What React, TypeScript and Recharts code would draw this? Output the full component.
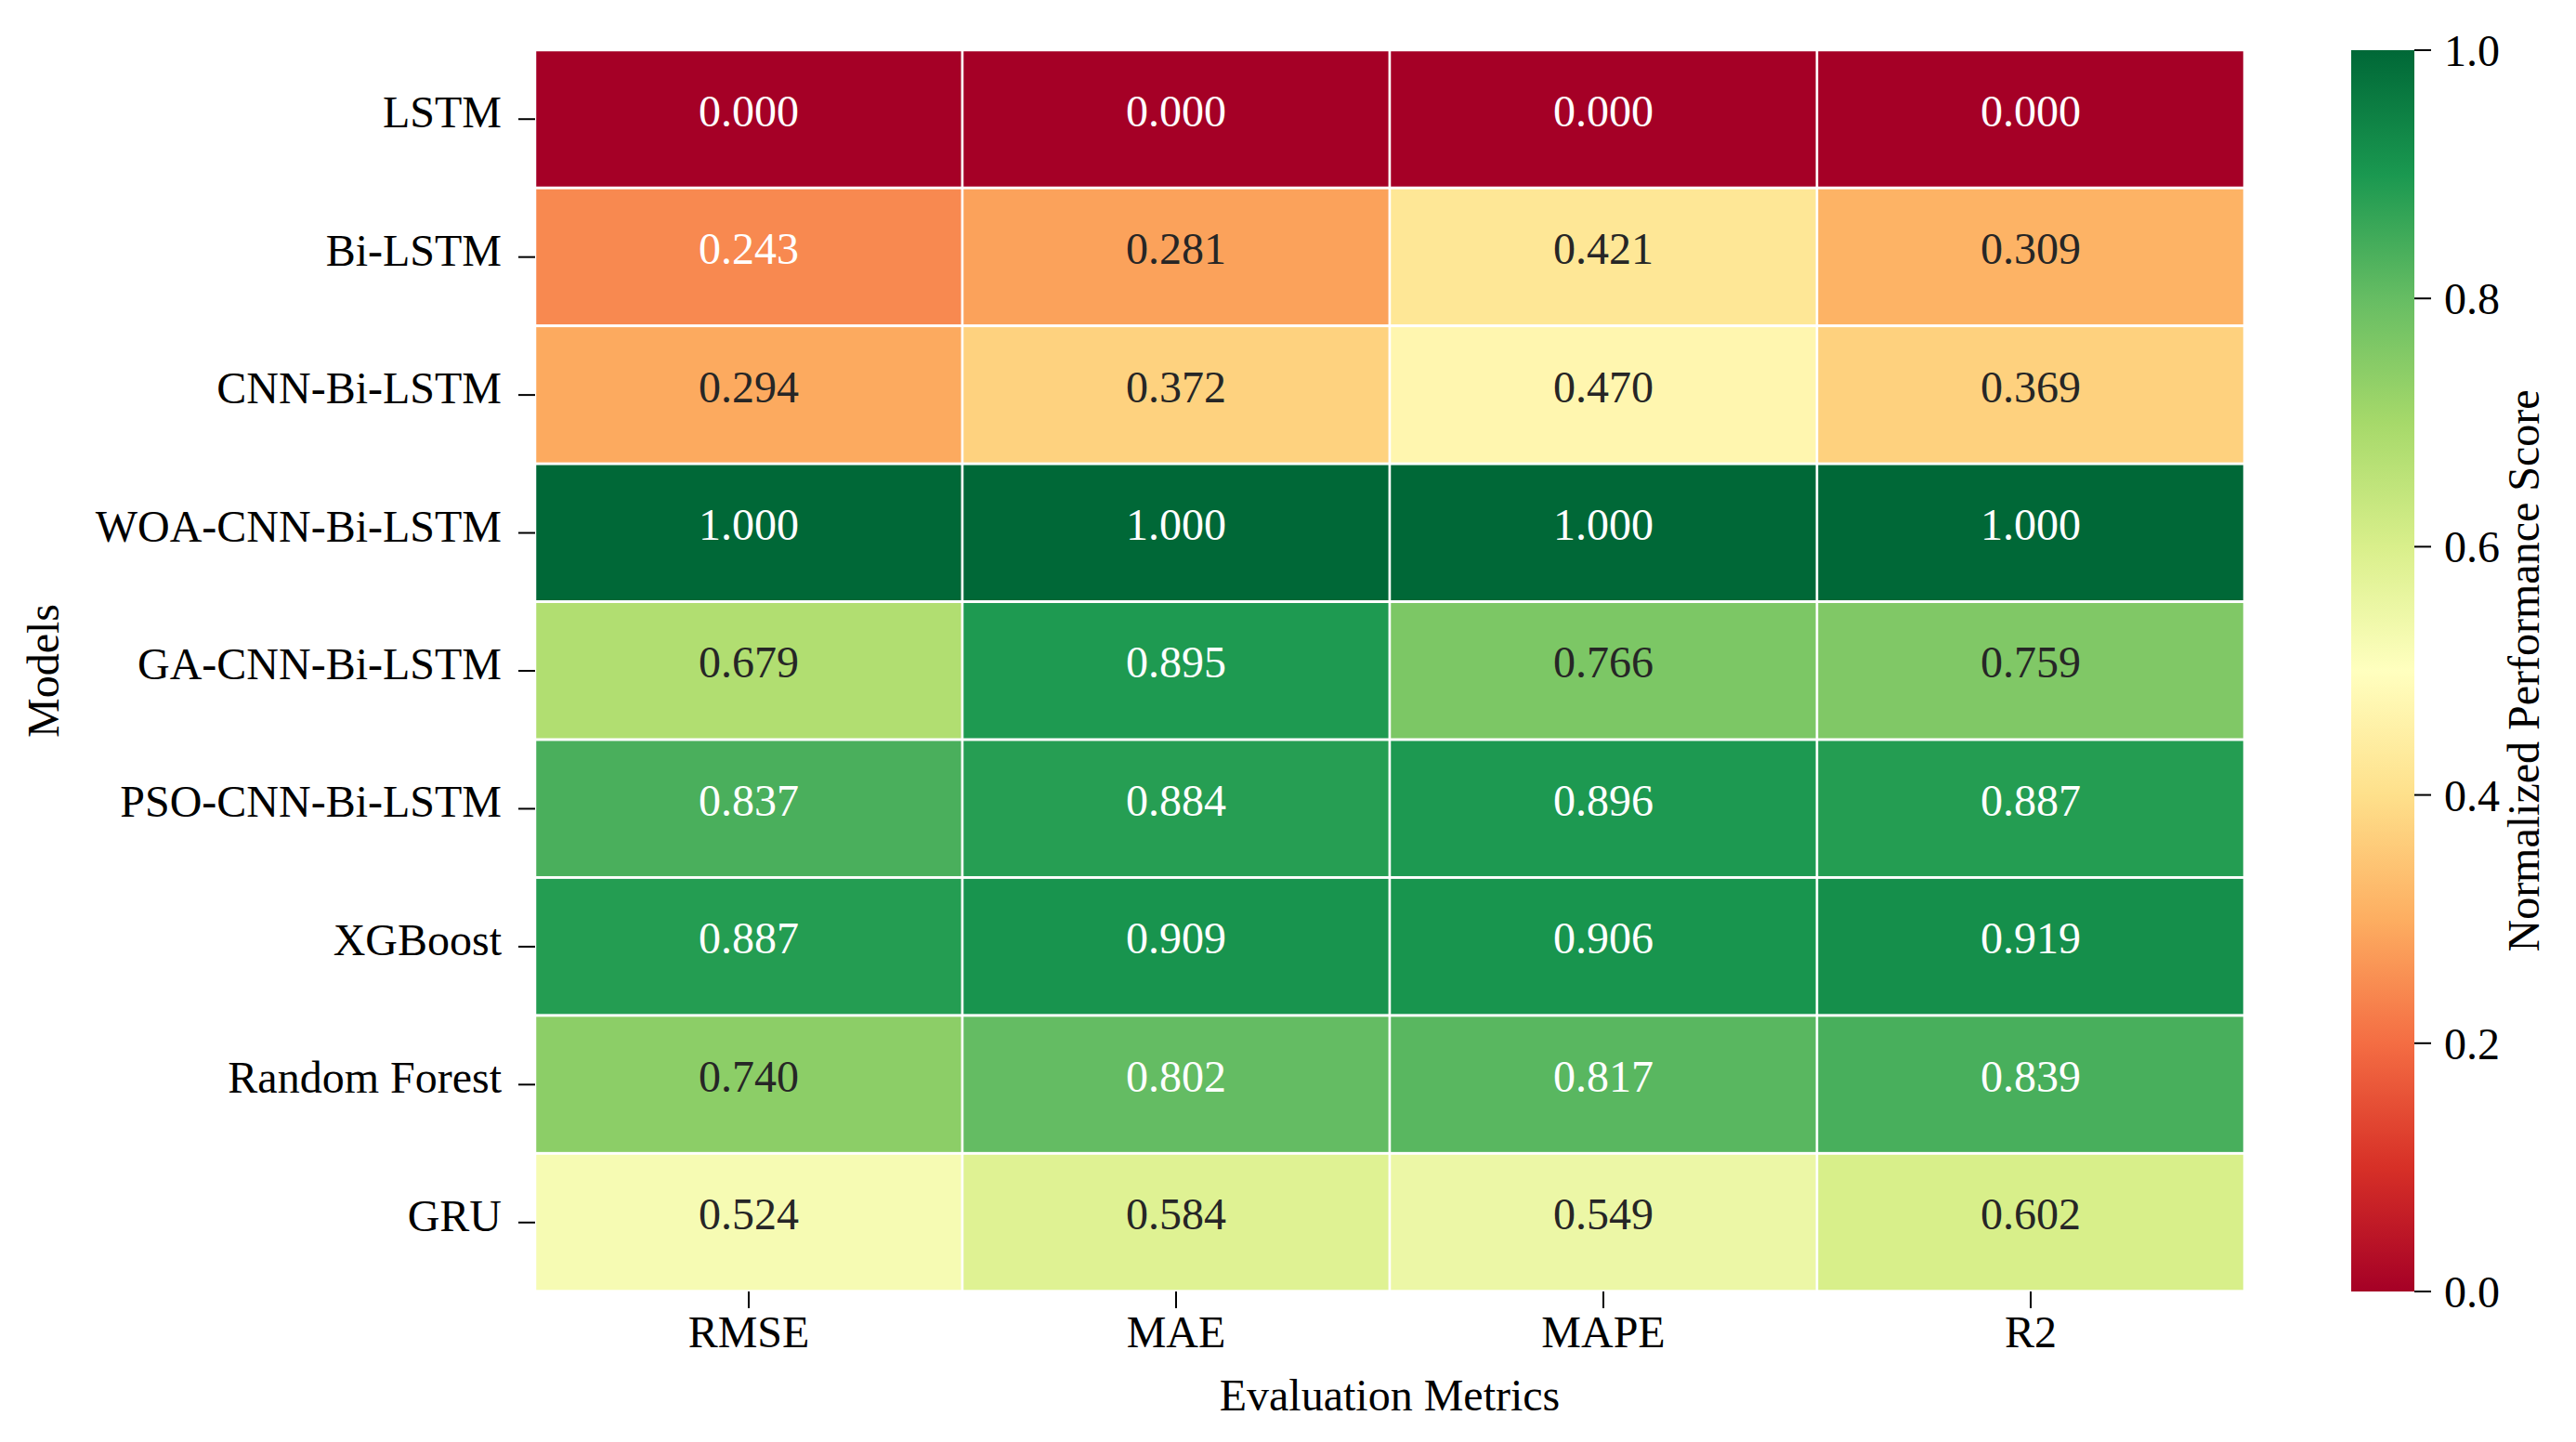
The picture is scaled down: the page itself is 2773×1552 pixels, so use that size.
import React from "react";
import { BarChart, Bar, XAxis, YAxis, Label } from "recharts";

const models = [
  "LSTM",
  "Bi-LSTM",
  "CNN-Bi-LSTM",
  "WOA-CNN-Bi-LSTM",
  "GA-CNN-Bi-LSTM",
  "PSO-CNN-Bi-LSTM",
  "XGBoost",
  "Random Forest",
  "GRU",
];
const metrics = ["RMSE", "MAE", "MAPE", "R2"];
const rmse = [0.0, 0.243, 0.294, 1.0, 0.679, 0.837, 0.887, 0.74, 0.524];
const mae = [0.0, 0.281, 0.372, 1.0, 0.895, 0.884, 0.909, 0.802, 0.584];
const mape = [0.0, 0.421, 0.47, 1.0, 0.766, 0.896, 0.906, 0.817, 0.549];
const r2 = [0.0, 0.309, 0.369, 1.0, 0.759, 0.887, 0.919, 0.839, 0.602];
const metricTickPositions = [0.5, 1.5, 2.5, 3.5];
const colorbarTicks = [0, 0.2, 0.4, 0.6, 0.8, 1.0];
const colorbarDomain = [0, 1];

// RdYlGn colormap anchors (matplotlib)
const RDYLGN = [
  [165, 0, 38],
  [215, 48, 39],
  [244, 109, 67],
  [253, 174, 97],
  [254, 224, 139],
  [255, 255, 191],
  [217, 239, 139],
  [166, 217, 106],
  [102, 189, 99],
  [26, 152, 80],
  [0, 104, 55],
];

function cmap(v: number): number[] {
  const t = Math.max(0, Math.min(1, v)) * (RDYLGN.length - 1);
  const i = Math.min(Math.floor(t), RDYLGN.length - 2);
  const f = t - i;
  const a = RDYLGN[i];
  const b = RDYLGN[i + 1];
  return [0, 1, 2].map((k) => a[k] + (b[k] - a[k]) * f);
}
function toHex(c: number[]) {
  return "#" + c.map((x) => Math.round(x).toString(16).padStart(2, "0")).join("");
}
function luminance(c: number[]) {
  const lin = c.map((x) => {
    const s = x / 255;
    return s <= 0.03928 ? s / 12.92 : Math.pow((s + 0.055) / 1.055, 2.4);
  });
  return 0.2126 * lin[0] + 0.7152 * lin[1] + 0.0722 * lin[2];
}

const metricValues: Record<string, number[]> = { RMSE: rmse, MAE: mae, MAPE: mape, R2: r2 };
const rows = models.map((model, i) => {
  const row: any = { model };
  metrics.forEach((m) => {
    row[m] = metricValues[m][i];
  });
  return row;
});

// each metric column occupies one unit of the x-axis
const spanKeys = metrics.map(() => () => 1);

const FONT = "'Liberation Serif', 'Times New Roman', serif";
const FS = 48;

function makeCellShape(metric: string) {
  return (props: any) => {
    const { x, y, width, height, payload } = props;
    const v = payload[metric] as number;
    const c = cmap(v);
    const textColor = luminance(c) > 0.408 ? "#262626" : "#ffffff";
    return (
      <g>
        <rect x={x} y={y} width={width} height={height} fill={toHex(c)} stroke="#ffffff" strokeWidth={2.5} />
        <text
          x={x + width / 2}
          y={y + height / 2}
          dy="0.16em"
          textAnchor="middle"
          fontFamily={FONT}
          fontSize={FS}
          fill={textColor}
        >
          {v.toFixed(3)}
        </text>
      </g>
    );
  };
}

export default function App() {
  const tickStyle = { fontSize: FS, fill: "#000", fontFamily: FONT };
  return (
    <div style={{ position: "absolute", left: 0, top: 0, width: 2773, height: 1552, background: "#fff" }}>
      <svg width={0} height={0} style={{ position: "absolute" }}>
        <defs>
          <linearGradient id="rdylgnGrad" x1="0" y1="1" x2="0" y2="0">
            {RDYLGN.map((c, i) => (
              <stop key={i} offset={`${(i / (RDYLGN.length - 1)) * 100}%`} stopColor={toHex(c)} />
            ))}
          </linearGradient>
        </defs>
      </svg>
      <div style={{ position: "absolute", left: 0, top: 0 }}>
        <BarChart
          width={2500}
          height={1552}
          data={rows}
          layout="vertical"
          margin={{ top: 54, right: 84, bottom: 0, left: 0 }}
          barCategoryGap={0}
          barGap={0}
        >
          <XAxis
            type="number"
            domain={[0, metrics.length]}
            ticks={metricTickPositions}
            tickFormatter={(v: number) => metrics[Math.floor(v)]}
            height={162}
            axisLine={false}
            tickSize={18}
            tickMargin={8}
            tick={tickStyle}
            tickLine={{ stroke: "#000", strokeWidth: 2 }}
            interval={0}
          >
            <Label value="Evaluation Metrics" position="insideBottom" offset={34} fontSize={FS} fill="#000" fontFamily={FONT} />
          </XAxis>
          <YAxis
            type="category"
            dataKey="model"
            width={576}
            axisLine={false}
            tickSize={18}
            tickMargin={18}
            tick={{ ...tickStyle, dy: -8 }}
            tickLine={{ stroke: "#000", strokeWidth: 2 }}
            interval={0}
          >
            <Label
              value="Models"
              angle={-90}
              position="insideLeft"
              offset={46}
              fontSize={FS}
              fill="#000"
              fontFamily={FONT}
              style={{ textAnchor: "middle" }}
            />
          </YAxis>
          {metrics.map((m, i) => (
            <Bar key={m} dataKey={spanKeys[i]} stackId="cells" isAnimationActive={false} shape={makeCellShape(m)} />
          ))}
        </BarChart>
      </div>
      <div style={{ position: "absolute", left: 2500, top: 0 }}>
        <BarChart
          width={273}
          height={1552}
          data={[{ name: "cb", score: colorbarDomain[1] }]}
          margin={{ top: 54, right: 0, bottom: 162, left: 31 }}
          barCategoryGap={0}
        >
          <XAxis dataKey="name" hide />
          <YAxis
            orientation="right"
            type="number"
            domain={colorbarDomain}
            ticks={colorbarTicks}
            tickFormatter={(v: number) => v.toFixed(1)}
            width={174}
            axisLine={false}
            tickSize={18}
            tickMargin={14}
            tick={tickStyle}
            tickLine={{ stroke: "#000", strokeWidth: 2 }}
            interval={0}
          >
            <Label
              value="Normalized Performance Score"
              angle={-90}
              position="insideRight"
              offset={57}
              fontSize={FS}
              fill="#000"
              fontFamily={FONT}
              style={{ textAnchor: "middle" }}
            />
          </YAxis>
          <Bar dataKey="score" fill="url(#rdylgnGrad)" isAnimationActive={false} />
        </BarChart>
      </div>
    </div>
  );
}
